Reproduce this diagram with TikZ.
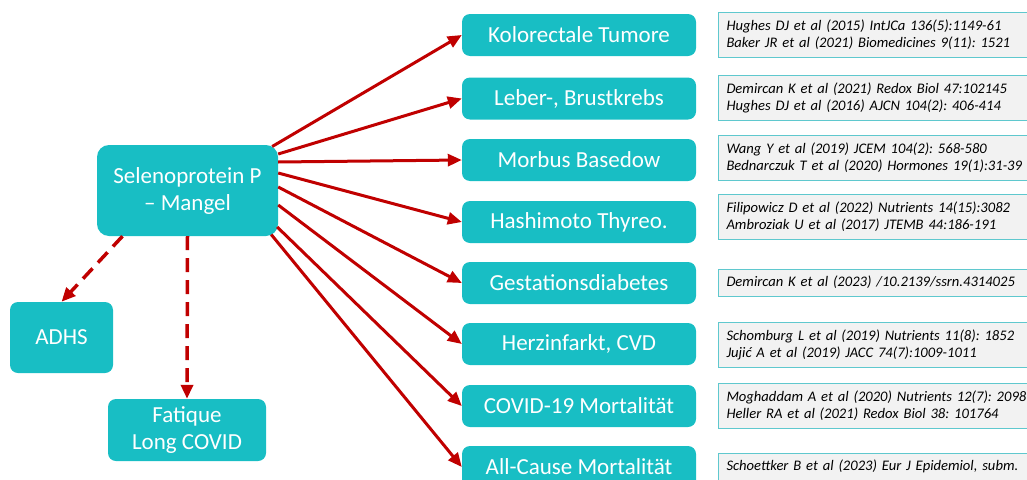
\documentclass[tikz,border=0pt]{standalone}
\usepackage{fontspec}
\setmainfont{Carlito}
\usetikzlibrary{arrows.meta}
\definecolor{seleteal}{RGB}{24,190,196}
\definecolor{arrowred}{RGB}{192,0,0}
\definecolor{refgray}{RGB}{242,242,242}
\definecolor{refline}{RGB}{95,200,206}
\frenchspacing

\begin{document}
\begin{tikzpicture}[x=1pt,y=-1pt,
  tealbox/.style={fill=seleteal,text=white,rounded corners=8pt,align=center,inner sep=0pt,
    font=\fontsize{23}{27}\selectfont},
  disease/.style={tealbox,minimum width=234pt,minimum height=42pt},
  refbox/.style={draw=refline,fill=refgray,line width=1pt,anchor=west,text width=330pt,
    align=left,inner xsep=8pt,inner ysep=3pt,minimum height=45pt,
    font=\fontsize{14.6}{17}\selectfont\itshape},
  refone/.style={refbox,minimum height=27pt},
  redarrow/.style={arrowred,line width=3pt,-{Triangle[length=14pt,width=12pt]}},
  dasharrow/.style={redarrow,line width=3.5pt,dash pattern=on 14pt off 8pt}]
\useasboundingbox (0,0) rectangle (1027,479);
\clip (0,0) rectangle (1027,479);

% left side
\node[tealbox,rounded corners=12pt,minimum width=181pt,minimum height=91pt] (seleno) at (187.5,190.5) {Selenoprotein P\\-- Mangel};
\node[tealbox,minimum width=103pt,minimum height=71pt] (adhs) at (61.5,337.5) {ADHS};
\node[tealbox,minimum width=158pt,minimum height=62pt] (fatique) at (187,430) {Fatique\\Long COVID};

% diseases
\node[disease] (kolo) at (579,35) {Kolorectale Tumore};
\node[disease] (leber) at (579,98.5) {Leber-, Brustkrebs};
\node[disease] (basedow) at (579,160) {Morbus Basedow};
\node[disease] (hashi) at (579,222) {Hashimoto Thyreo.};
\node[disease] (gesta) at (579,283) {Gestationsdiabetes};
\node[disease] (herz) at (579,344) {Herzinfarkt, CVD};
\node[disease] (covid) at (579,406) {COVID-19 Mortalität};
\node[disease] (cause) at (579,467) {All-Cause Mortalität};

% references
\node[refbox] (refkolo) at (718,34.5) {Hughes DJ et al (2015) IntJCa 136(5):1149-61\\Baker JR et al (2021) Biomedicines 9(11): 1521};
\node[refbox] (refleber) at (718,98) {Demircan K et al (2021) Redox Biol 47:102145\\Hughes DJ et al (2016) AJCN 104(2): 406-414};
\node[refbox] (refbasedow) at (718,157.5) {Wang Y et al (2019) JCEM 104(2): 568-580\\Bednarczuk T et al (2020) Hormones 19(1):31-39};
\node[refbox] (refhashi) at (718,217) {Filipowicz D et al (2022) Nutrients 14(15):3082\\Ambroziak U et al (2017) JTEMB 44:186-191};
\node[refone] (refgesta) at (718,282.5) {Demircan K et al (2023) /10.2139/ssrn.4314025};
\node[refbox] (refherz) at (718,344.5) {Schomburg L et al (2019) Nutrients 11(8): 1852\\Jujić A et al (2019) JACC 74(7):1009-1011};
\node[refbox] (refcovid) at (718,406) {Moghaddam A et al (2020) Nutrients 12(7): 2098\\Heller RA et al (2021) Redox Biol 38: 101764};
\node[refone] (refcause) at (718,466.5) {Schoettker B et al (2023) Eur J Epidemiol, subm.};

% arrows
\draw[redarrow] ([shift={(-6pt,44pt)}]seleno.east) -- (kolo.west);
\draw[redarrow] ([yshift=36.5pt]seleno.east) -- (leber.west);
\draw[redarrow] ([yshift=28.5pt]seleno.east) -- (basedow.west);
\draw[redarrow] ([yshift=17.5pt]seleno.east) -- (hashi.west);
\draw[redarrow] ([yshift=3.5pt]seleno.east) -- (gesta.west);
\draw[redarrow] ([yshift=-14.5pt]seleno.east) -- (herz.west);
\draw[redarrow] ([shift={(-1pt,-36.5pt)}]seleno.east) -- (covid.west);
\draw[redarrow] ([shift={(-7pt,-44pt)}]seleno.east) -- (cause.west);
\draw[dasharrow] ([xshift=-65pt]seleno.south) -- (adhs.north);
\draw[dasharrow] (seleno.south) -- (fatique.north);
\end{tikzpicture}
\end{document}
